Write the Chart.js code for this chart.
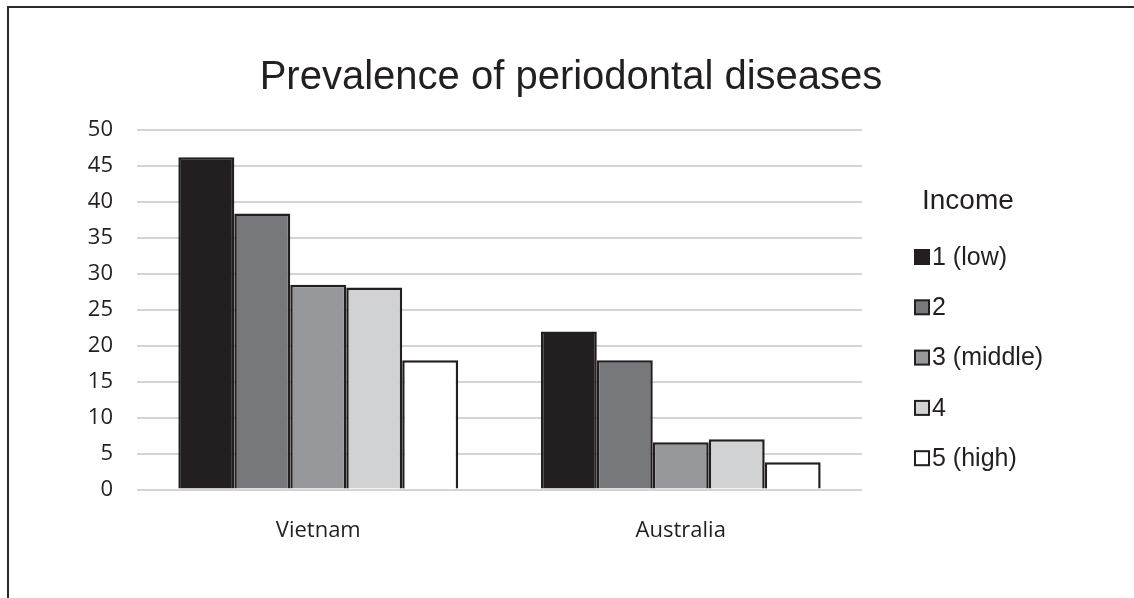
<!DOCTYPE html>
<html>
<head>
<meta charset="utf-8">
<script src="https://cdn.jsdelivr.net/npm/chart.js@4/dist/chart.umd.min.js"></script>
<style>
  html, body { margin: 0; padding: 0; background: #fff; }
  #wrap { position: relative; width: 1134px; height: 598px; overflow: hidden; }
  #frame { position: absolute; left: 7px; top: 6px; right: -10px; bottom: -10px;
           border-top: 2px solid #2a2a2a; border-left: 2px solid #2a2a2a; }
  canvas { position: absolute; left: 0; top: 0; }
</style>
</head>
<body>
<div id="wrap">
  <div id="frame"></div>
  <canvas id="grafico" width="1134" height="598"></canvas>
</div>
<script>
// datos
const paises = ['Vietnam', 'Australia'];
const ingresos = ['1 (low)', '2', '3 (middle)', '4', '5 (high)'];
const ingreso1 = [46.2, 22.0];
const ingreso2 = [38.4, 18.0];
const ingreso3 = [28.5, 6.6];
const ingreso4 = [28.1, 7.0];
const ingreso5 = [18.0, 3.8];
const tituloLeyenda = 'Income';

const colores = ['#231f20', '#77787b', '#97989b', '#d1d2d4', '#ffffff'];
const valores = [ingreso1, ingreso2, ingreso3, ingreso4, ingreso5];

// leyenda dibujada a mano, a la derecha del area del grafico
const leyendaIngresos = {
    id: 'leyendaIngresos',
    afterDraw(chart) {
        const ctx = chart.ctx;
        const x0 = chart.chartArea.right + 53;
        ctx.save();
        ctx.fillStyle = '#231f20';
        ctx.textBaseline = 'middle';
        ctx.font = '28px "Liberation Sans", Arial, sans-serif';
        ctx.fillText(tituloLeyenda, x0 + 7, 201);
        ctx.font = '25px "Liberation Sans", Arial, sans-serif';
        chart.data.datasets.forEach((ds, i) => {
            const y = 257 + i * 50.3;
            ctx.fillStyle = ds.backgroundColor;
            ctx.strokeStyle = '#231f20';
            ctx.lineWidth = 2;
            ctx.fillRect(x0, y - 7, 14, 14);
            ctx.strokeRect(x0, y - 7, 14, 14);
            ctx.fillStyle = '#231f20';
            ctx.fillText(ds.label, x0 + 17, y + 1);
        });
        ctx.restore();
    }
};

const ctx = document.getElementById('grafico').getContext('2d');
new Chart(ctx, {
    type: 'bar',
    data: {
        labels: paises,
        datasets: ingresos.map((nombre, i) => ({
            label: nombre,
            data: valores[i],
            backgroundColor: colores[i],
            borderColor: '#231f20',
            borderWidth: 2.5,
            categoryPercentage: 0.772,
            barPercentage: 1.0
        }))
    },
    options: {
        responsive: false,
        animation: false,
        layout: {
            padding: { left: 8, right: 0, top: 24, bottom: 26 }
        },
        plugins: {
            legend: { display: false },
            tooltip: { enabled: false },
            title: {
                display: true,
                text: 'Prevalence of periodontal diseases',
                color: '#231f20',
                font: { family: '"Liberation Sans", Arial, sans-serif', size: 40, weight: 'normal' },
                padding: { top: 30, bottom: 28 }
            }
        },
        scales: {
            x: {
                grid: { display: false, drawTicks: false },
                border: { display: false },
                ticks: {
                    color: '#231f20',
                    padding: 28,
                    font: { family: '"Open Sans", sans-serif', size: 22 }
                }
            },
            y: {
                min: 0,
                max: 50,
                afterFit: (escala) => { escala.width = 129; },
                ticks: {
                    stepSize: 5,
                    color: '#231f20',
                    padding: 24,
                    font: { family: '"Open Sans", sans-serif', size: 22 }
                },
                grid: { color: '#d4d4d4', lineWidth: 2, drawTicks: false },
                border: { display: false }
            },
            // eje vacio que reserva el espacio de la leyenda
            espacioLeyenda: {
                type: 'linear',
                position: 'right',
                display: true,
                afterFit: (escala) => { escala.width = 272; },
                ticks: { display: false },
                grid: { display: false, drawTicks: false },
                border: { display: false }
            }
        }
    },
    plugins: [leyendaIngresos]
});
</script>
</body>
</html>
